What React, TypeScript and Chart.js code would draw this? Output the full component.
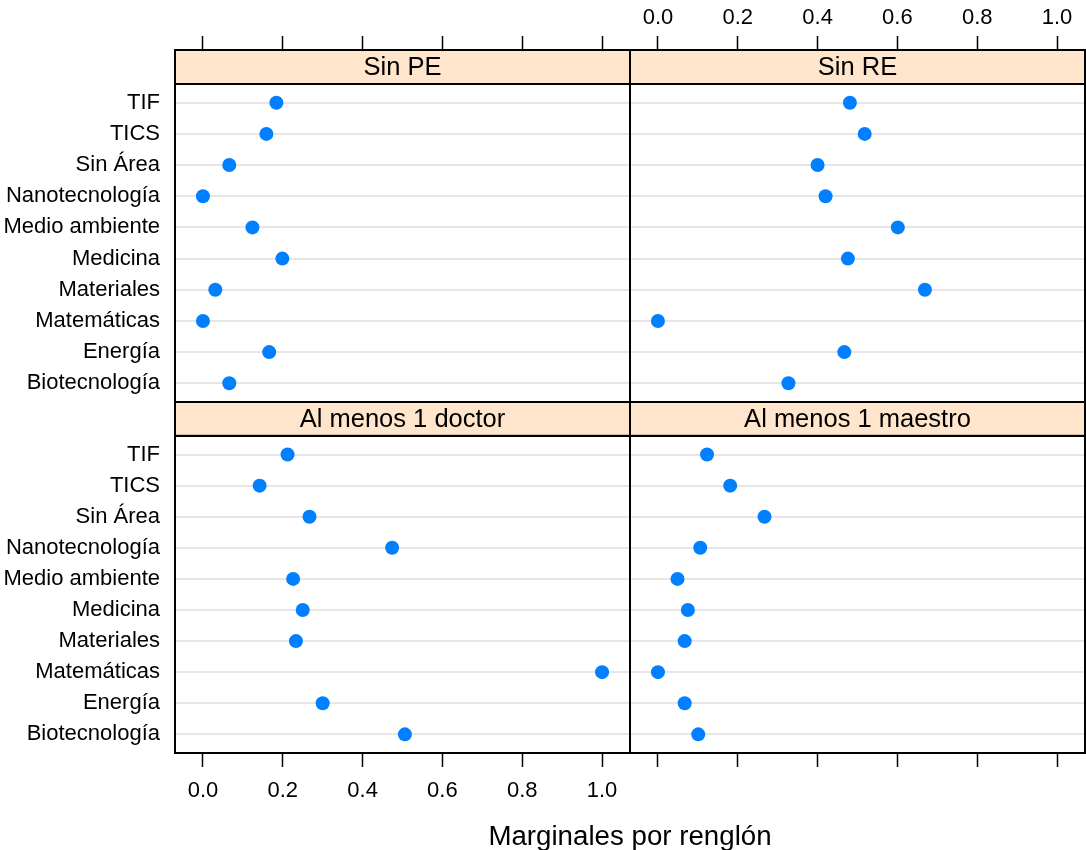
import React, { useEffect, useRef } from "react";
import { Chart, registerables } from "chart.js";

Chart.register(...registerables);

// ---- Data ----
const categories = [
  "Biotecnología",
  "Energía",
  "Matemáticas",
  "Materiales",
  "Medicina",
  "Medio ambiente",
  "Nanotecnología",
  "Sin Área",
  "TICS",
  "TIF",
];
const sinPE = [0.066, 0.166, 0.0, 0.031, 0.199, 0.124, 0.0, 0.066, 0.159, 0.184];
const sinRE = [0.327, 0.467, 0.0, 0.669, 0.476, 0.601, 0.42, 0.4, 0.518, 0.481];
const doctor = [0.506, 0.3, 1.0, 0.233, 0.25, 0.226, 0.474, 0.267, 0.142, 0.212];
const maestro = [0.101, 0.067, 0.0, 0.067, 0.075, 0.049, 0.106, 0.267, 0.181, 0.123];
const panelLabels = ["Sin PE", "Sin RE", "Al menos 1 doctor", "Al menos 1 maestro"];
const xTicks = [0, 0.2, 0.4, 0.6, 0.8, 1.0];
const xTitle = "Marginales por renglón";

// ---- Layout ----
const W = 1086;
const H = 850;
const CW = W + 24; // canvas a bit wider than the page so point overflow padding never squeezes the plot
const COL_X = [175, 630, 1085];
const ROW_Y = [50, 402, 753];
const STRIP_PX = 34;
const PANEL_PX = 318;
const X_MIN = -0.07;
const X_MAX = 1.07;
const Y_MIN = 0.4;
const Y_PANEL_TOP = 10.6;
const Y_MAX = Y_PANEL_TOP + (STRIP_PX * (Y_PANEL_TOP - Y_MIN)) / PANEL_PX;
const FONT = "'Liberation Sans', Arial, Helvetica, sans-serif";

const panels = [
  { values: sinPE, label: panelLabels[0], col: 0, row: 0, xLabels: false },
  { values: sinRE, label: panelLabels[1], col: 1, row: 0, xLabels: true },
  { values: doctor, label: panelLabels[2], col: 0, row: 1, xLabels: true },
  { values: maestro, label: panelLabels[3], col: 1, row: 1, xLabels: false },
];

const stripPlugin = {
  id: "stripPlugin",
  afterDraw(chart: any, _args: any, opts: any) {
    const { ctx, chartArea } = chart;
    const yScale = chart.scales.y;
    const left = chartArea.left;
    const right = chartArea.right;
    const top = chartArea.top;
    const panelTop = yScale.getPixelForValue(Y_PANEL_TOP);
    const bottom = chartArea.bottom;
    ctx.save();
    ctx.fillStyle = "#ffe5cc";
    ctx.fillRect(left, top, right - left, panelTop - top);
    ctx.lineWidth = 2;
    ctx.strokeStyle = "#000000";
    ctx.strokeRect(left, top, right - left, panelTop - top);
    ctx.strokeRect(left, panelTop, right - left, bottom - panelTop);
    ctx.fillStyle = "#000000";
    ctx.font = `25.5px ${FONT}`;
    ctx.textAlign = "center";
    ctx.textBaseline = "middle";
    ctx.fillText(opts.label, (left + right) / 2, (top + panelTop) / 2 + 1);
    ctx.restore();
  },
};

function Panel({ p }: { p: (typeof panels)[number] }) {
  const ref = useRef<HTMLCanvasElement | null>(null);
  useEffect(() => {
    if (!ref.current) return;
    const left = COL_X[p.col];
    const right = COL_X[p.col + 1];
    const top = ROW_Y[p.row];
    const bottom = ROW_Y[p.row + 1];
    const isTop = p.row === 0;
    const isLeftCol = p.col === 0;
    const chart = new Chart(ref.current, {
      type: "scatter",
      data: {
        datasets: [
          {
            data: p.values.map((v, i) => ({ x: v, y: i + 1 })),
            backgroundColor: "#0080ff",
            borderWidth: 0,
            pointRadius: 7,
            pointHoverRadius: 7,
          },
        ],
      },
      plugins: [stripPlugin],
      options: {
        animation: false,
        responsive: false,
        events: [],
        layout: {
          padding: {
            left: isLeftCol ? 0 : left,
            right: CW - right,
            top: isTop ? 0 : top,
            bottom: isTop ? H - bottom : 0,
          },
        },
        plugins: {
          legend: { display: false },
          tooltip: { enabled: false },
          stripPlugin: { label: p.label },
        } as any,
        scales: {
          x: {
            type: "linear",
            position: isTop ? "top" : "bottom",
            min: X_MIN,
            max: X_MAX,
            afterBuildTicks: (scale: any) => {
              scale.ticks = xTicks.map((v) => ({ value: v }));
            },
            afterFit: (scale: any) => {
              scale.height = isTop ? top : H - bottom;
            },
            border: { display: false },
            grid: {
              display: true,
              drawOnChartArea: false,
              drawTicks: true,
              tickLength: 14,
              tickWidth: 1.5,
              tickColor: "#000000",
            },
            ticks: {
              display: p.xLabels,
              padding: isTop ? 5 : 11,
              color: "#000000",
              font: { family: FONT, size: 22 },
              maxRotation: 0,
              autoSkip: false,
              callback: (v: any) => Number(v).toFixed(1),
            },
          },
          y: {
            type: "linear",
            position: "left",
            min: Y_MIN,
            max: Y_MAX,
            afterBuildTicks: (scale: any) => {
              scale.ticks = categories.map((_, i) => ({ value: i + 1 }));
            },
            afterFit: (scale: any) => {
              scale.width = isLeftCol ? left : 0;
            },
            border: { display: false },
            grid: {
              display: true,
              drawOnChartArea: true,
              drawTicks: false,
              color: "#e6e6e6",
              lineWidth: 2,
            },
            ticks: {
              display: isLeftCol,
              padding: 15,
              color: "#000000",
              font: { family: FONT, size: 22 },
              autoSkip: false,
              callback: (v: any) => categories[Math.round(Number(v)) - 1] ?? "",
            },
          },
        },
      } as any,
    });
    return () => chart.destroy();
  }, [p]);
  return (
    <canvas
      ref={ref}
      width={CW}
      height={H}
      style={{ position: "absolute", left: 0, top: 0, width: CW, height: H }}
    />
  );
}

export default function App() {
  return (
    <div
      style={{
        position: "absolute",
        left: 0,
        top: 0,
        width: W,
        height: H,
        background: "#ffffff",
        overflow: "hidden",
      }}
    >
      {panels.map((p, i) => (
        <Panel key={i} p={p} />
      ))}
      <div
        style={{
          position: "absolute",
          left: COL_X[0],
          width: COL_X[2] - COL_X[0],
          top: 820,
          lineHeight: "32px",
          textAlign: "center",
          fontFamily: FONT,
          fontSize: 27.7,
          color: "#000000",
        }}
      >
        {xTitle}
      </div>
    </div>
  );
}
